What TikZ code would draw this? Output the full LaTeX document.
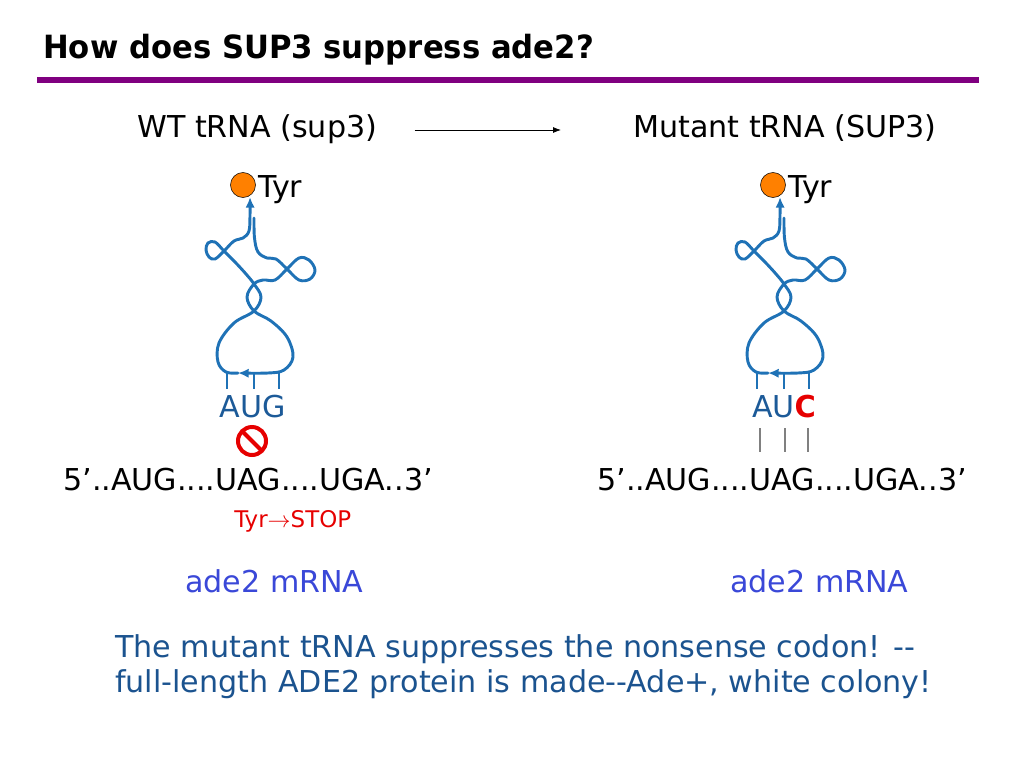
\documentclass[tikz,border=0pt]{standalone}
\usepackage{fontspec}
\setmainfont{DejaVu Sans}[BoldFeatures={FakeStretch=0.96}]
\usepackage{tikz}
\usetikzlibrary{arrows.meta, positioning, calc}

\definecolor{slidepurple}{RGB}{128,0,128}
\definecolor{trnablue}{RGB}{31,114,182}
\definecolor{codonblue}{RGB}{28,90,152}
\definecolor{textblue}{RGB}{27,83,143}
\definecolor{mrnablue}{RGB}{58,72,216}
\definecolor{tyrorange}{RGB}{255,128,0}
\definecolor{stopred}{RGB}{230,0,0}

\begin{document}
\begin{tikzpicture}[x=0.75pt, y=-0.75pt,
  strand/.style={trnablue, line width=2.2pt, line cap=round},
  big/.style={inner sep=0pt, font=\fontsize{22.6}{27}\selectfont},
  small/.style={inner sep=0pt, font=\fontsize{17.2}{21}\selectfont}]

\useasboundingbox (0,0) rectangle (1024,768);

% title
\node[anchor=base west, inner sep=0pt, font=\fontsize{24}{29}\selectfont\bfseries] (title) at (43,58) {How does SUP3 suppress ade2?};
\draw[slidepurple, line width=4.4pt] (37,80) -- (979,80);

\node[big, anchor=base west] (wt) at (137,137) {WT tRNA (sup3)};
\node[big, anchor=base west] (mut) at (633,137) {Mutant tRNA (SUP3)};
\draw[-{Latex[length=6pt,width=4.5pt]}, line width=0.6pt, shorten <=28pt, shorten >=54pt] (wt.east |- 0,130) -- (mut.west |- 0,130);

% the two tRNAs
\foreach \s/\n in {0/R,-530/L} {
\begin{scope}[shift={(\s,0)}]
\draw[strand, -{Latex[length=8pt,width=7pt]}] plot[smooth, tension=0.6] coordinates {
  (784,218) (784.5,238) (788,252) (797,258) (806,259) (817,269) (829,280) (840,279)
  (845,270) (839,260) (829,258) (817,269) (805,280) (793,280) (784,284) (777,297)
  (784,311) (801,321) (817,337) (823,357) (814,370) (798,373) (768,373)};
\draw[strand, -{Latex[length=8pt,width=7pt]}] plot[smooth, tension=0.6] coordinates {
  (768,373) (756,372) (748,362) (749,343) (764,323) (784,311) (791,297) (784,284)
  (776,274) (765,262) (754,251) (745,242) (738,243) (736,250) (739,257) (745,259)
  (754,251) (764,241) (773,238) (779,231) (780,215) (780,197)};
\foreach \t in {757,784,809}
  \draw[trnablue, line width=0.9pt] (\t,373) -- (\t,389);
\filldraw[fill=tyrorange, draw=black, line width=0.4pt] (773,185) circle (12.5);
\node[big, anchor=base west] (tyr\n) at (788,197) {Tyr};
\end{scope}
}

% anticodons
\node[big, anchor=base, text=codonblue] (acL) at (253,417) {AUG};
\node[big, anchor=base, text=codonblue] (acR) at (784,417) {AU{\bfseries\color{stopred}C}};

% no pairing on the left, pairing on the right
\draw[stopred, line width=3pt] (252,441) circle (14);
\draw[stopred, line width=3pt] (242,431) -- (262,451);
\foreach \g in {760,785,808}
  \draw[gray, line width=1.2pt] (\g,428) -- (\g,452);

% mRNAs
\node[big, anchor=base west] (mrnaL) at (63,490) {5’..AUG....UAG....UGA..3’};
\node[big, anchor=base west] (mrnaR) at (597,490) {5’..AUG....UAG....UGA..3’};
\node[small, anchor=base west, text=stopred] (stop) at (234,527) {Tyr$\rightarrow$STOP};

\node[big, anchor=base west, text=mrnablue] (adeL) at (185,592) {ade2 mRNA};
\node[big, anchor=base west, text=mrnablue] (adeR) at (730,592) {ade2 mRNA};

\node[big, anchor=base west, text=textblue] (sumA) at (115,657) {The mutant tRNA suppresses the nonsense codon! -{}-};
\node[big, anchor=base west, text=textblue] (sumB) at (115,692) {full-length ADE2 protein is made-{}-Ade+, white colony!};

\end{tikzpicture}
\end{document}
